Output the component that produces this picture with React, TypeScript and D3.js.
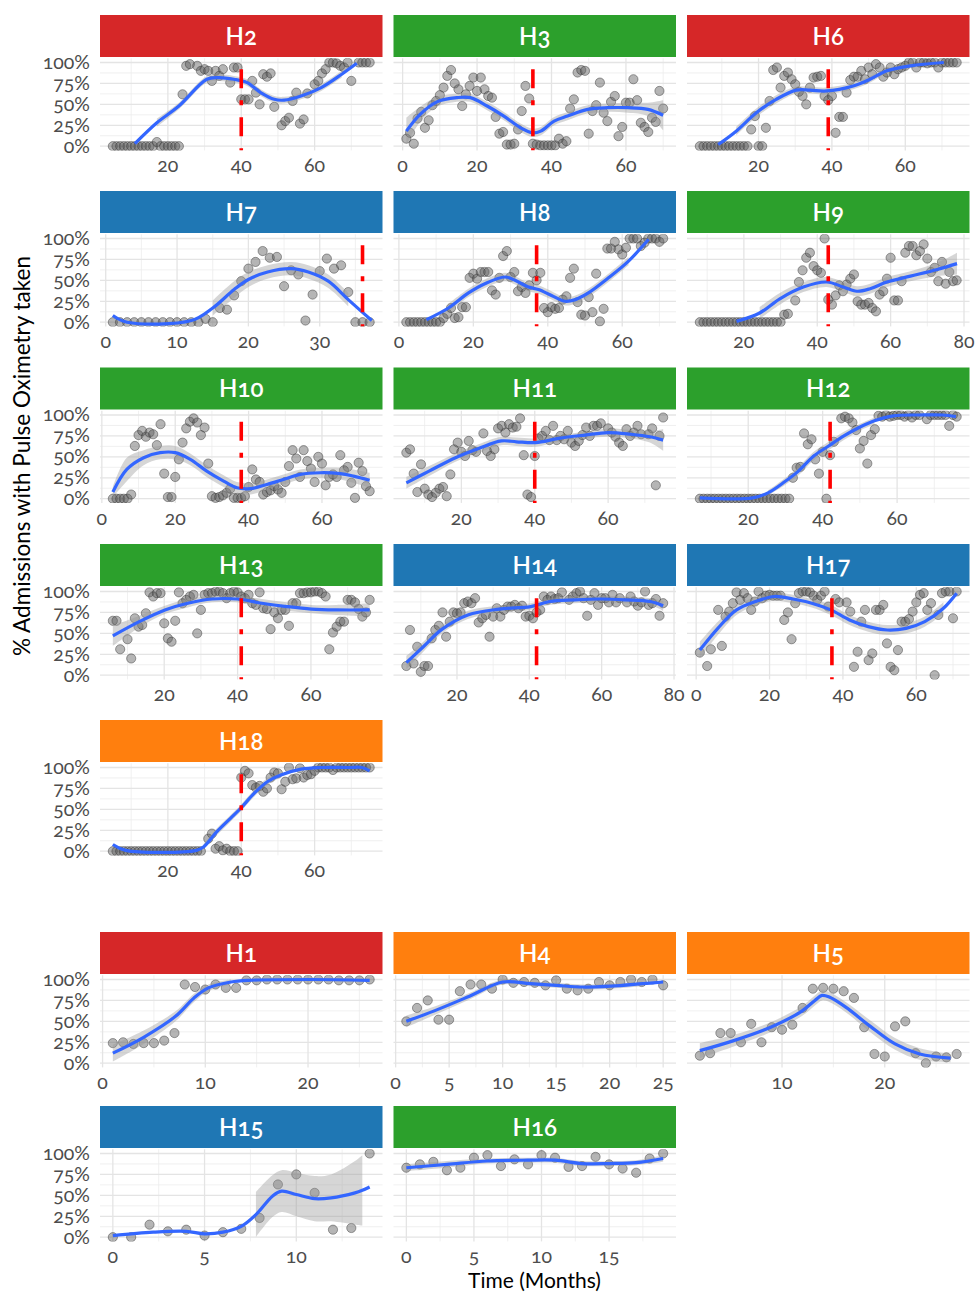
import React from "react";
import * as d3 from "d3";

type P = [number, number];
type S = [number, number, number];

const RED = "#D62728";
const GREEN = "#2CA02C";
const BLUE = "#1F77B4";
const ORANGE = "#FF7F0E";

// ---------- data: [month, % admissions] ----------
const H2_points: P[] = [[5,0],[6,0],[7,0],[8,0],[9,0],[10,0],[11,0],[12,0],[13,0],[14,0],[15,0],[16,0],[17,5],[18,0],[19,0],[20,0],[21,0],[22,0],[23,0],[24,62],[25,96],[26,98],[28,96],[29,90],[30,92],[31,90],[32,78],[33,90],[34,84],[35,92],[37,76],[38,94],[39,94],[40,56],[41,56],[42,56],[43,78],[44,64],[45,50],[46,86],[47,83],[48,87],[49,47],[51,25],[52,30],[53,34],[54,54],[55,64],[56,27],[57,32],[58,63],[60,74],[61,78],[62,87],[63,92],[64,100],[65,100],[66,99],[67,96],[68,94],[69,100],[70,78],[72,100],[73,100],[74,100],[75,100]];
const H2_smooth: S[] = [[11,3,6],[17,28,5],[23,48,4],[30.6,80,4],[33.8,82,4],[38,80,4],[41.6,76,4],[45.3,64,4],[49,56,4],[51.7,55,4],[56.3,60,4],[61.8,70,4],[67.4,86,4],[71.5,99,4]];

const H3_points: P[] = [[1,9],[2,16],[3,3],[4,33],[5,41],[6,22],[7,31],[8,49],[9,54],[10,61],[11,70],[12,84],[13,91],[14,75],[15,68],[16,48],[17,62],[18,72],[19,82],[20,66],[21,82],[22,68],[23,60],[24,58],[25,35],[26,15],[27,17],[28,2],[29,2],[30,3],[31,20],[32,42],[33,72],[34,57],[35,3],[36,2],[37,1],[38,1],[39,1],[40,1],[41,1],[42,9],[43,3],[44,6],[45,45],[46,56],[47,88],[48,91],[49,90],[50,15],[51,42],[52,49],[53,76],[54,40],[55,30],[56,53],[57,60],[58,12],[59,23],[60,52],[61,52],[62,80],[63,55],[64,28],[65,23],[66,17],[67,34],[68,29],[69,66],[70,45]];
const H3_smooth: S[] = [[1,18,16],[4.7,38,9],[9.2,53,6],[14.6,58,5],[18.2,58,5],[22.7,48,5],[27.2,36,5],[31.7,22,5],[34.9,16,5],[37.1,18,5],[40.7,30,5],[44.3,36,5],[49.7,44,5],[55.1,46,5],[60.5,46,6],[65.9,44,8],[70,37,18]];

const H6_points: P[] = [[4,0],[5,0],[6,0],[7,0],[8,0],[9,0],[10,0],[11,0],[12,0],[13,0],[14,0],[15,0],[16,0],[17,0],[18,20],[19,36],[20,0],[21,0],[22,22],[23,54],[24,91],[25,94],[26,70],[27,84],[28,88],[29,80],[30,74],[31,65],[32,60],[33,50],[34,70],[35,82],[36,83],[37,84],[38,60],[39,55],[40,60],[41,16],[42,35],[43,35],[44,64],[45,79],[46,83],[47,83],[48,90],[49,80],[50,94],[51,86],[52,98],[53,94],[54,83],[55,88],[56,94],[57,86],[58,92],[59,94],[60,96],[61,100],[62,100],[63,94],[64,100],[65,100],[66,99],[67,100],[68,100],[69,94],[70,100],[71,100],[72,100],[73,100],[74,100]];
const H6_smooth: S[] = [[9,2,4],[13.9,18,5],[19.4,40,5],[24.8,56,5],[30.3,67,4],[34,67,4],[38.5,66,4],[45.8,72,4],[50.4,80,4],[55,90,3],[61.4,96,3],[70.5,100,3]];

const H7_points: P[] = [[1,0],[2,0],[3,0],[4,0],[5,0],[6,0],[7,0],[8,0],[9,0],[10,0],[11,0],[12,0],[13,0],[14,4],[15,0],[16,17],[17,15],[18,32],[19,49],[20,64],[21,72],[22,85],[23,77],[24,78],[25,43],[26,62],[27,57],[28,2],[29,33],[30,61],[31,76],[32,64],[33,68],[34,36],[35,0],[36,0],[37,0]];
const H7_smooth: S[] = [[1,8,5],[3,0,3],[12,2,3],[15,17,9],[18,39,10],[20,51,9],[22.7,60,8],[26,64,8],[28.4,60,8],[31.2,49,8],[34,27,8],[37.3,2,6]];

const H8_points: P[] = [[2,0],[3,0],[4,0],[5,0],[6,0],[7,0],[8,0],[9,0],[10,0],[11,0],[12,5],[13,10],[14,17],[15,5],[16,6],[17,18],[18,18],[19,53],[20,58],[21,52],[22,60],[23,60],[24,60],[25,38],[26,33],[27,53],[28,79],[29,85],[30,54],[31,60],[32,37],[33,42],[34,35],[35,44],[36,59],[37,50],[38,59],[39,17],[40,12],[41,18],[42,16],[43,17],[44,27],[45,31],[46,53],[47,64],[48,24],[49,9],[50,8],[51,30],[52,12],[53,58],[54,1],[55,16],[56,88],[57,88],[58,96],[59,87],[60,81],[61,89],[62,100],[63,100],[64,100],[65,91],[66,95],[67,100],[68,100],[69,100],[70,96],[71,100]];
const H8_smooth: S[] = [[7.4,3,4],[13.3,17,5],[18.7,35,5],[23.1,46,5],[28.5,54,5],[31.2,50,5],[34.8,42,5],[37.5,39,5],[41,32,5],[44.7,25,5],[47.4,27,5],[50.9,35,5],[56.3,53,5],[61.7,73,5],[67.1,99,5]];

const H9_points: P[] = [[8,0],[9,0],[10,0],[11,0],[12,0],[13,0],[14,0],[15,0],[16,0],[17,0],[18,0],[19,0],[20,0],[21,0],[22,0],[23,0],[24,0],[25,0],[26,0],[27,0],[28,0],[29,0],[30,0],[31,9],[32,10],[34,26],[35,48],[36,62],[37,77],[38,83],[39,67],[40,62],[41,59],[42,100],[43,27],[44,21],[45,32],[46,44],[47,37],[48,45],[49,52],[50,57],[51,25],[52,21],[53,21],[54,23],[55,17],[56,13],[57,33],[58,37],[59,52],[60,77],[61,26],[62,26],[63,49],[64,83],[65,91],[66,91],[67,80],[68,85],[69,93],[70,76],[71,60],[72,65],[73,49],[74,72],[75,46],[76,60],[77,49],[78,50]];
const H9_smooth: S[] = [[18,1,3],[24.3,11,7],[29.8,28,7],[36.2,42,6],[42.6,48,6],[47.1,42,6],[50.8,37,6],[54.4,40,6],[59,48,6],[65.4,55,6],[72.7,63,8],[78.1,70,13]];

const H10_points: P[] = [[3,0],[4,0],[5,0],[6,0],[7,0],[8,5],[9,63],[10,76],[11,81],[12,74],[13,79],[14,77],[15,64],[16,89],[17,30],[18,2],[19,2],[20,26],[21,47],[22,67],[23,84],[24,92],[25,96],[26,91],[27,76],[28,85],[29,42],[30,3],[31,1],[32,2],[33,4],[34,7],[35,12],[36,1],[37,1],[38,1],[39,3],[40,14],[41,35],[42,23],[43,20],[44,5],[45,8],[46,10],[47,15],[48,11],[49,7],[50,20],[51,39],[52,58],[53,48],[54,26],[55,58],[56,45],[57,36],[58,20],[59,50],[60,42],[61,16],[62,26],[63,29],[64,26],[65,52],[66,34],[67,38],[68,19],[69,1],[70,43],[71,33],[72,15],[73,9]];
const H10_smooth: S[] = [[3,8,6],[6.8,35,14],[11.4,49,9],[15.9,55,8],[20,55,8],[24.1,47,7],[28.6,33,7],[33.2,21,7],[36.8,13,7],[40.5,12,7],[45,17,6],[49.5,23,6],[54.1,29,6],[59.5,31,6],[65,30,7],[68.6,27,8],[73,22,9]];

const H11_points: P[] = [[5,55],[6,59],[7,30],[8,8],[9,41],[10,12],[11,5],[12,2],[13,7],[14,12],[15,14],[16,3],[17,29],[18,59],[19,67],[20,56],[21,51],[22,69],[23,58],[24,56],[26,78],[27,57],[28,51],[29,59],[30,84],[31,87],[32,79],[33,89],[34,85],[35,86],[36,96],[37,52],[38,5],[39,2],[40,51],[41,72],[42,75],[43,81],[44,70],[45,87],[46,70],[47,75],[48,71],[49,81],[50,67],[51,63],[52,69],[53,76],[54,85],[55,75],[56,87],[57,87],[58,90],[60,84],[61,79],[62,74],[63,67],[64,63],[65,83],[66,75],[67,79],[68,87],[69,77],[71,77],[72,84],[73,16],[74,75],[75,97]];
const H11_smooth: S[] = [[5,19,7],[11.2,33,6],[18.4,49,5],[24.7,60,5],[30.9,69,5],[35,68,5],[40.2,67,5],[46.5,72,4],[53.7,76,4],[60,79,5],[66.2,77,5],[71.4,74,7],[75,70,13]];

const H12_points: P[] = [[7,0],[8,0],[9,0],[10,0],[11,0],[12,0],[13,0],[14,0],[15,0],[16,0],[17,0],[18,0],[19,0],[20,0],[21,0],[22,0],[23,0],[24,0],[25,0],[26,0],[27,0],[28,0],[29,0],[30,0],[31,0],[32,25],[33,37],[34,38],[35,78],[36,65],[37,71],[38,47],[39,30],[40,56],[41,0],[42,52],[43,68],[45,96],[46,98],[47,96],[48,91],[49,82],[50,60],[51,69],[52,42],[53,76],[54,83],[55,99],[56,98],[57,100],[58,98],[59,99],[60,100],[61,100],[62,98],[63,100],[64,97],[65,100],[66,100],[68,95],[69,100],[70,100],[71,100],[72,100],[73,100],[74,87],[75,100],[76,98]];
const H12_smooth: S[] = [[7,1,2],[21.2,1,2],[25.3,7,3],[29.4,19,4],[33.5,33,5],[37.6,51,5],[41.6,63,5],[45.7,75,5],[49.8,85,4],[53.9,93,4],[59,99,3],[66.1,100,3],[72.2,100,3],[75.8,98,3]];

const H13_points: P[] = [[6,65],[7,65],[8,31],[10,43],[11,20],[12,68],[13,58],[14,60],[15,74],[16,99],[17,94],[18,98],[19,98],[20,62],[21,44],[22,40],[23,65],[24,99],[25,86],[26,90],[27,94],[28,96],[29,50],[30,78],[31,96],[32,98],[33,98],[34,100],[35,100],[36,98],[37,92],[38,98],[39,100],[40,99],[41,94],[42,92],[43,96],[44,86],[45,84],[46,99],[47,80],[48,79],[49,55],[50,75],[51,68],[52,78],[53,78],[54,59],[55,86],[56,86],[57,98],[58,98],[59,99],[60,99],[61,100],[62,100],[63,98],[64,94],[65,31],[66,51],[67,58],[68,64],[69,64],[70,90],[71,90],[72,87],[73,79],[74,70],[75,75],[76,90]];
const H13_smooth: S[] = [[6,47,12],[13.2,64,7],[20.2,78,5],[26.4,86,5],[33.1,91,4],[39.9,91,4],[46.6,86,5],[53.4,82,5],[60.1,79,5],[66.9,78,6],[76,78,8]];

const H14_points: P[] = [[6,11],[7,54],[8,14],[9,34],[10,4],[11,11],[12,11],[13,44],[14,54],[15,59],[16,75],[17,46],[18,64],[19,75],[20,74],[21,75],[22,86],[23,88],[24,86],[25,92],[26,63],[27,68],[28,72],[29,46],[30,70],[31,80],[32,70],[33,78],[34,82],[35,82],[36,84],[37,80],[38,83],[39,70],[40,71],[41,68],[42,75],[43,78],[44,94],[45,90],[46,94],[47,91],[48,92],[49,99],[51,90],[52,94],[53,98],[54,100],[55,92],[56,71],[57,90],[58,98],[59,84],[60,92],[61,92],[62,87],[63,96],[64,87],[65,92],[67,87],[68,94],[69,88],[70,83],[71,87],[72,100],[73,84],[74,86],[75,91],[76,71],[77,86]];
const H14_smooth: S[] = [[6,15,8],[10.7,34,6],[15.9,55,5],[23,72,5],[31.7,79,4],[40.4,82,4],[45.6,88,4],[52.6,90,4],[59.5,91,4],[66.5,90,4],[73.4,88,4],[77,83,6]];

const H17_points: P[] = [[1,27],[3,11],[4,31],[6,78],[7,35],[8,70],[9,76],[10,86],[11,99],[12,90],[13,98],[14,92],[15,78],[16,88],[17,100],[18,92],[19,95],[20,96],[21,95],[22,95],[23,95],[24,66],[25,75],[26,43],[27,86],[28,98],[29,100],[30,100],[31,99],[32,95],[33,90],[34,95],[35,100],[36,82],[38,91],[39,87],[41,87],[42,76],[43,10],[44,28],[45,64],[46,78],[47,18],[48,26],[49,78],[50,78],[51,84],[52,38],[53,10],[54,6],[55,30],[56,64],[57,64],[58,67],[59,76],[60,87],[61,96],[62,98],[63,78],[64,86],[65,0],[66,72],[67,98],[68,100],[69,100],[70,68],[71,100]];
const H17_smooth: S[] = [[1,30,10],[5.9,56,8],[11,78,6],[16.2,88,5],[21.3,94,5],[26.4,91,5],[31.5,86,5],[36.7,78,6],[41.8,66,6],[46.9,58,6],[52.1,54,6],[57.2,56,6],[62.3,64,6],[67.4,80,7],[71,98,9]];

const H18_points: P[] = [[5,0],[6,0],[7,0],[8,0],[9,0],[10,0],[11,0],[12,0],[13,0],[14,0],[15,0],[16,0],[17,0],[18,0],[19,0],[20,0],[21,0],[22,0],[23,0],[24,0],[25,0],[26,0],[27,0],[28,0],[29,0],[31,15],[32,21],[33,3],[34,6],[35,1],[36,3],[37,0],[38,0],[39,0],[40,88],[41,96],[42,93],[43,79],[44,76],[45,78],[46,71],[47,75],[48,88],[49,94],[50,93],[51,74],[52,83],[53,100],[54,86],[55,87],[56,99],[57,88],[58,91],[59,92],[60,96],[61,100],[62,100],[63,100],[64,100],[65,97],[66,100],[67,100],[68,100],[69,100],[70,100],[71,100],[72,100],[73,100],[74,100],[75,100]];
const H18_smooth: S[] = [[5,8,4],[8.5,1,3],[27.8,1,3],[29.7,5,3],[33.3,23,4],[37,39,4],[39.8,51,4],[43.5,69,4],[47.1,83,4],[50.8,91,3],[56.3,98,3],[61.8,100,3],[69.2,100,3],[72.9,100,3],[75,96,3]];

const H1_points: P[] = [[1,24],[2,25],[3,23],[4,24],[5,24],[6,27],[7,36],[8,94],[9,91],[10,88],[11,94],[12,90],[13,90],[14,99],[15,99],[16,100],[17,100],[18,100],[19,100],[20,100],[21,100],[22,100],[23,99],[24,99],[25,99],[26,100]];
const H1_smooth: S[] = [[1,12,10],[4,31,8],[7.1,56,6],[8.9,78,5],[10.3,90,4],[12.5,97,3],[14.2,99,3],[20.3,100,2],[26,99,3]];

const H4_points: P[] = [[1,50],[2,66],[3,75],[4,52],[5,52],[6,86],[7,94],[8,94],[9,89],[10,100],[11,96],[12,97],[13,96],[14,93],[15,99],[16,89],[17,87],[18,89],[19,97],[20,93],[21,97],[22,100],[23,97],[24,100],[25,93]];
const H4_smooth: S[] = [[1,50,7],[3.9,64,5],[6.9,80,4],[10,97,3],[12.6,95,3],[15,93,3],[17.5,91,3],[20.1,92,3],[23.1,95,3],[25,97,4]];

const H5_points: P[] = [[2,9],[3,12],[4,36],[5,36],[6,25],[7,47],[8,25],[9,43],[10,40],[11,46],[12,66],[13,89],[14,90],[15,89],[16,86],[17,78],[18,43],[19,11],[20,8],[21,44],[22,50],[23,12],[24,0],[25,8],[26,7],[27,11]];
const H5_smooth: S[] = [[2,15,9],[5.3,27,7],[8.9,43,6],[11.9,62,6],[13.2,75,6],[13.9,81,6],[14.6,79,6],[16.2,67,6],[18.6,44,7],[21,23,7],[23.4,11,7],[26.4,6,5]];

const H15_points: P[] = [[0,0],[1,0],[2,15],[3,7],[4,9],[5,2],[6,6],[7,10],[8,23],[9,63],[10,75],[11,53],[12,9],[13,11],[14,100]];
const H15_smooth: S[] = [[0,2,5],[2.2,6,8],[4,7,8],[5,4,8],[6,6,8],[7,13,14],[7.8,27,27],[8.7,49,25],[9.2,55,25],[10,51,26],[11,46,27],[11.9,47,28],[13.2,53,38],[13.6,56,42],[14,60,45]];

const H16_points: P[] = [[0,83],[1,87],[2,90],[3,80],[4,83],[5,95],[6,98],[7,85],[8,93],[9,87],[10,98],[11,95],[12,84],[13,85],[14,96],[15,87],[16,82],[17,77],[18,94],[19,100]];
const H16_smooth: S[] = [[0,83,4],[3,87,4],[6,91,3],[9,92,3],[11,92,3],[13,88,3],[15,88,3],[17,89,3],[19,94,4]];

const Y_BREAKS = [0, 25, 50, 75, 100];
const Y_MINOR = [12.5, 37.5, 62.5, 87.5];

interface PanelDef { name: string; color: string; points: P[]; smooth: S[]; vline: number | null; ticks: number[]; }

const PANELS: PanelDef[] = [
  { name: "H2", color: RED, points: H2_points, smooth: H2_smooth, vline: 40, ticks: [20, 40, 60] },
  { name: "H3", color: GREEN, points: H3_points, smooth: H3_smooth, vline: 35, ticks: [0, 20, 40, 60] },
  { name: "H6", color: RED, points: H6_points, smooth: H6_smooth, vline: 39, ticks: [20, 40, 60] },
  { name: "H7", color: BLUE, points: H7_points, smooth: H7_smooth, vline: 36, ticks: [0, 10, 20, 30] },
  { name: "H8", color: BLUE, points: H8_points, smooth: H8_smooth, vline: 37, ticks: [0, 20, 40, 60] },
  { name: "H9", color: GREEN, points: H9_points, smooth: H9_smooth, vline: 43, ticks: [20, 40, 60, 80] },
  { name: "H10", color: GREEN, points: H10_points, smooth: H10_smooth, vline: 38, ticks: [0, 20, 40, 60] },
  { name: "H11", color: GREEN, points: H11_points, smooth: H11_smooth, vline: 40, ticks: [20, 40, 60] },
  { name: "H12", color: GREEN, points: H12_points, smooth: H12_smooth, vline: 42, ticks: [20, 40, 60] },
  { name: "H13", color: GREEN, points: H13_points, smooth: H13_smooth, vline: 41, ticks: [20, 40, 60] },
  { name: "H14", color: BLUE, points: H14_points, smooth: H14_smooth, vline: 42, ticks: [20, 40, 60, 80] },
  { name: "H17", color: BLUE, points: H17_points, smooth: H17_smooth, vline: 37, ticks: [0, 20, 40, 60] },
  { name: "H18", color: ORANGE, points: H18_points, smooth: H18_smooth, vline: 40, ticks: [20, 40, 60] },
  { name: "H1", color: RED, points: H1_points, smooth: H1_smooth, vline: null, ticks: [0, 10, 20] },
  { name: "H4", color: ORANGE, points: H4_points, smooth: H4_smooth, vline: null, ticks: [0, 5, 10, 15, 20, 25] },
  { name: "H5", color: ORANGE, points: H5_points, smooth: H5_smooth, vline: null, ticks: [10, 20] },
  { name: "H15", color: BLUE, points: H15_points, smooth: H15_smooth, vline: null, ticks: [0, 5, 10] },
  { name: "H16", color: GREEN, points: H16_points, smooth: H16_smooth, vline: null, ticks: [0, 5, 10, 15] },
];

const GRID: string[][] = [
  ["H2", "H3", "H6"],
  ["H7", "H8", "H9"],
  ["H10", "H11", "H12"],
  ["H13", "H14", "H17"],
  ["H18"],
  ["H1", "H4", "H5"],
  ["H15", "H16"],
];

// ---------- layout ----------
const STRIP_TOPS = [15, 191, 367.5, 544, 720, 932, 1106];
const COL_LEFT = [100, 393.5, 687];
const PANEL_W = 282.5;
const STRIP_H = 42;
const FONT = "Lato, 'Noto Sans', sans-serif";
const NUM_STYLE: React.CSSProperties = { fontVariantNumeric: "oldstyle-nums", fontFeatureSettings: '"onum" 1' };

function Panel({ def, top, left, showY, idx }: { def: PanelDef; top: number; left: number; showY: boolean; idx: number }) {
  const xs = def.points.map((d) => d[0]);
  const xmin = d3.min(xs)!;
  const xmax = d3.max(xs)!;
  const r = xmax - xmin;
  const x = d3.scaleLinear().domain([xmin - 0.05 * r, xmax + 0.05 * r]).range([left, left + PANEL_W]);
  const y = d3.scaleLinear().domain([-5, 105]).range([top + 135.4, top + 43.3]);
  const [d0, d1] = x.domain();
  const ticks = def.ticks.filter((t) => t >= d0 && t <= d1);
  const step = def.ticks.length > 1 ? def.ticks[1] - def.ticks[0] : 10;
  const minor = [...def.ticks.map((t) => t - step / 2), def.ticks[def.ticks.length - 1] + step / 2].filter((t) => t >= d0 && t <= d1);
  const pTop = y(105);
  const pBot = y(-5);

  const line = d3.line<S>().x((d) => x(d[0])).y((d) => y(d[1])).curve(d3.curveCatmullRom.alpha(0.5));
  const area = d3
    .area<S>()
    .defined((d) => d[1] - d[2] >= 0 && d[1] + d[2] <= 100)
    .x((d) => x(d[0]))
    .y0((d) => y(d[1] - d[2]))
    .y1((d) => y(d[1] + d[2]))
    .curve(d3.curveCatmullRom.alpha(0.5));
  const clipId = `clip-${idx}`;

  return (
    <g>
      <defs>
        <clipPath id={clipId}>
          <rect x={left} y={pTop} width={PANEL_W} height={pBot - pTop} />
        </clipPath>
      </defs>
      {Y_MINOR.map((v) => (
        <line key={`ym${v}`} x1={left} x2={left + PANEL_W} y1={y(v)} y2={y(v)} stroke="#ececec" strokeWidth={0.8} />
      ))}
      {minor.map((v) => (
        <line key={`xm${v}`} x1={x(v)} x2={x(v)} y1={pTop} y2={pBot} stroke="#ececec" strokeWidth={0.8} />
      ))}
      {Y_BREAKS.map((v) => (
        <line key={`yM${v}`} x1={left} x2={left + PANEL_W} y1={y(v)} y2={y(v)} stroke="#e4e4e4" strokeWidth={1.3} />
      ))}
      {ticks.map((v) => (
        <line key={`xM${v}`} x1={x(v)} x2={x(v)} y1={pTop} y2={pBot} stroke="#e4e4e4" strokeWidth={1.3} />
      ))}
      <rect x={left} y={top} width={PANEL_W} height={STRIP_H} fill={def.color} />
      <text x={left + PANEL_W / 2} y={top + 29.5} textAnchor="middle" fill="#fff" fontSize={24} fontWeight={600} fontFamily={FONT} style={NUM_STYLE}>
        {def.name}
      </text>
      <g clipPath={`url(#${clipId})`}>
        {def.points.map((d, i) => (
          <circle key={i} cx={x(d[0])} cy={y(d[1])} r={4.6} fill="#5a5a5a" fillOpacity={0.45} stroke="#333" strokeOpacity={0.45} strokeWidth={1} />
        ))}
        <path d={area(def.smooth) || ""} fill="#999" fillOpacity={0.4} />
        <path d={line(def.smooth) || ""} fill="none" stroke="#3366FF" strokeWidth={3.2} />
        {def.vline !== null && (
          <line x1={x(def.vline)} x2={x(def.vline)} y1={pTop} y2={pBot} stroke="#FF0000" strokeWidth={3.6} strokeDasharray="19 12 5 12" strokeDashoffset={37} />
        )}
      </g>
      {ticks.map((v) => (
        <text key={`xl${v}`} x={x(v)} y={top + 157} textAnchor="middle" fontSize={19.5} fill="#4d4d4d" fontFamily={FONT} style={NUM_STYLE}>
          {v}
        </text>
      ))}
      {showY &&
        Y_BREAKS.map((v) => (
          <text key={`yl${v}`} x={left - 10} y={y(v) + 6.5} textAnchor="end" fontSize={19.5} fill="#4d4d4d" fontFamily={FONT} style={NUM_STYLE}>
            {`${v}%`}
          </text>
        ))}
    </g>
  );
}

export default function App() {
  const byName = new Map(PANELS.map((p) => [p.name, p]));
  let idx = 0;
  return (
    <svg width={976} height={1292} style={{ position: "absolute", left: 0, top: 0, background: "#fff" }} fontFamily={FONT}>
      <rect width={976} height={1292} fill="#fff" />
      {GRID.map((row, ri) =>
        row.map((name, ci) => {
          const def = byName.get(name)!;
          idx += 1;
          return <Panel key={name} def={def} top={STRIP_TOPS[ri]} left={COL_LEFT[ci]} showY={ci === 0} idx={idx} />;
        })
      )}
      <text transform="translate(30,456) rotate(-90)" textAnchor="middle" fontSize={22.5} fill="#000" fontFamily={FONT}>
        % Admissions with Pulse Oximetry taken
      </text>
      <text x={534.5} y={1287.5} textAnchor="middle" fontSize={21} fill="#000" fontFamily={FONT}>
        Time (Months)
      </text>
    </svg>
  );
}
